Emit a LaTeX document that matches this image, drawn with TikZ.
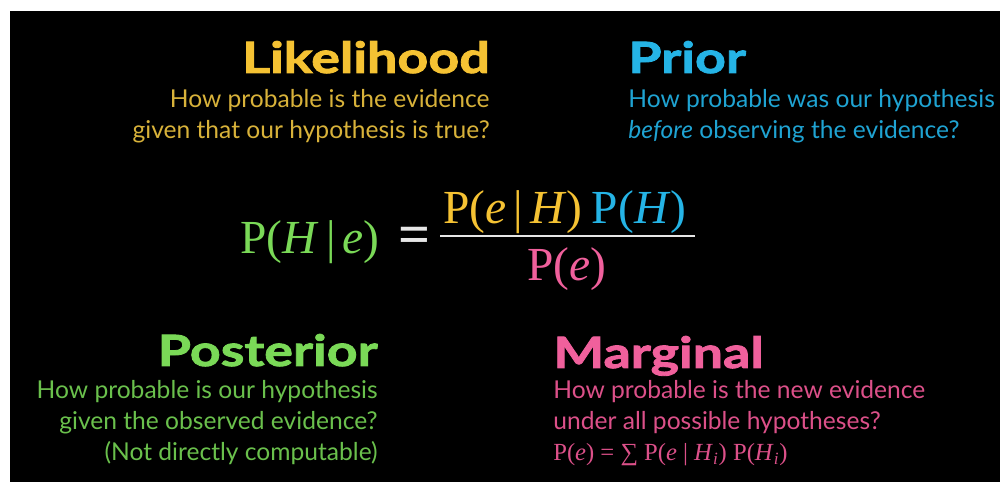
\documentclass[tikz,border=0pt]{standalone}
\usepackage{fontspec}
\setmainfont{Lato}
\newfontfamily\headfont[FakeStretch=1.25,BoldFeatures={FakeBold=2}]{Lato}
\newfontfamily\formfont{Liberation Serif}
\usepackage{tikz}
\usetikzlibrary{positioning}
\definecolor{bysYellow}{HTML}{F5C233}
\definecolor{bysYellowDim}{HTML}{D8B23A}
\definecolor{bysCyan}{HTML}{25B4E6}
\definecolor{bysCyanDim}{HTML}{1FA3D2}
\definecolor{bysGreen}{HTML}{7AD957}
\definecolor{bysGreenDim}{HTML}{6AC04C}
\definecolor{bysPink}{HTML}{F0609C}
\definecolor{bysPinkDim}{HTML}{DC5089}
\definecolor{bysBar}{HTML}{E6E6E6}
\tikzset{
  heading/.style={inner sep=0pt, font=\headfont\bfseries\fontsize{24.5}{28}\selectfont},
  expl/.style={inner sep=0pt, font=\fontsize{14}{17.5}\selectfont},
  formula/.style={inner sep=0pt, font=\formfont\fontsize{27}{30}\selectfont},
  fracbar/.style={draw=bysBar, line width=1.7pt},
}

\begin{document}
\begin{tikzpicture}[x=0.02cm, y=-0.02cm]
  \useasboundingbox (0,0) rectangle (1000,482);
  \fill[black] (10,11) rectangle (1000,482);
  \node[heading, text=bysYellow, anchor=base east](likeh) at (490,73){Likelihood};
  \node[expl, text=bysYellowDim, align=right, anchor=north east](liket) at (490,86)
    {\strut How probable is the evidence\\given that our hypothesis is true?};
  \node[heading, text=bysCyan, anchor=base west](priorh) at (628,73){Prior};
  \node[expl, text=bysCyanDim, align=left, anchor=north west](priort) at (628,86)
    {\strut How probable was our hypothesis\\\textit{before} observing the evidence?};
  \node[formula, text=bysGreen, anchor=base west](postf) at (240,254)
    {P(\textit{H}\hspace{0.15em}|\hspace{0.15em}\textit{e})};
  \node[formula, text=bysBar, font=\formfont\bfseries\fontsize{32}{34}\selectfont](eq) at (415,240){=};
  \coordinate (barl) at (440,236);
  \coordinate (barr) at (695,236);
  \draw[fracbar](barl)--(barr);
  \node[formula, text=bysYellow, anchor=base west](likef) at (443,224)
    {P(\textit{e}\hspace{0.15em}|\hspace{0.15em}\textit{H})};
  \node[formula, text=bysCyan, anchor=base west](priorf) at ([xshift=5pt]likef.base east){P(\textit{H})};
  \node[formula, text=bysPink, anchor=base](margf) at (567,281){P(\textit{e})};
  \node[heading, text=bysGreen, anchor=base east](posth) at (378,366){Posterior};
  \node[expl, text=bysGreenDim, align=right, anchor=north east](postt) at (378,377)
    {\strut How probable is our hypothesis\\given the observed evidence?\\(Not directly computable)};
  \node[heading, text=bysPink, anchor=base west](margh) at (553,368){Marginal};
  \node[expl, text=bysPinkDim, align=left, anchor=north west](margt) at (553,377)
    {\strut How probable is the new evidence\\under all possible hypotheses?\\
     {\formfont P(\textit{e}) = ∑ P(\textit{e} | \textit{H}\textsubscript{\textit{i}}) P(\textit{H}\textsubscript{\textit{i}})}};
\end{tikzpicture}
\end{document}
